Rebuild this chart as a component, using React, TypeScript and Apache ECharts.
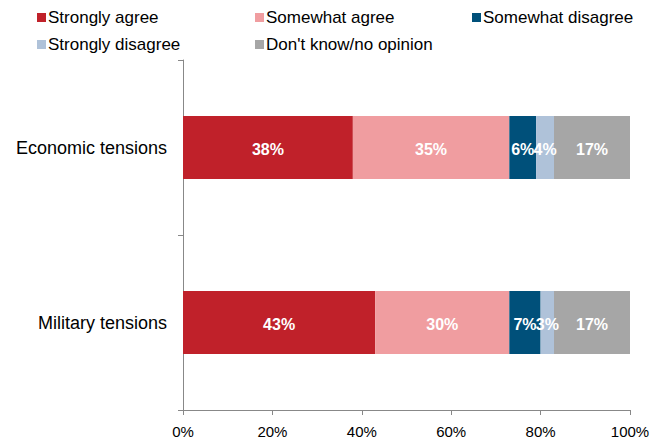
import React, { useEffect, useRef } from "react";
import * as echarts from "echarts";

const categories = ["Economic tensions", "Military tensions"];
const seriesNames = ["Strongly agree", "Somewhat agree", "Somewhat disagree", "Strongly disagree", "Don't know/no opinion"];
const stronglyAgree = [38, 43];
const somewhatAgree = [35, 30];
const somewhatDisagree = [6, 7];
const stronglyDisagree = [4, 3];
const dontKnow = [17, 17];
const xTicks = [0, 20, 40, 60, 80, 100];

const colors = ["#C0212A", "#F09DA0", "#00507A", "#AFC2D9", "#A6A6A6"];
const FONT = "Liberation Sans, Arial, sans-serif";

export default function App() {
  const ref = useRef<HTMLDivElement>(null);
  useEffect(() => {
    if (!ref.current) return;
    const chart = echarts.init(ref.current, undefined, { renderer: "svg" });
    const values = [stronglyAgree, somewhatAgree, somewhatDisagree, stronglyDisagree, dontKnow];
    const legendPos = [
      { left: 37, top: 9 },
      { left: 255, top: 9 },
      { left: 472, top: 9 },
      { left: 37, top: 36 },
      { left: 255, top: 36 },
    ];
    chart.setOption({
      animation: false,
      textStyle: { fontFamily: FONT },
      legend: seriesNames.map((n, i) => ({
        data: [n],
        left: legendPos[i].left,
        top: legendPos[i].top,
        icon: "rect",
        itemWidth: 9,
        itemHeight: 9,
        itemGap: 0,
        selectedMode: false,
        padding: 0,
        textStyle: { fontFamily: FONT, fontSize: 17, color: "#000", padding: [0, 0, 0, -3] },
      })),
      grid: { left: 183, right: 24, top: 60, bottom: 31, containLabel: false },
      xAxis: {
        type: "value",
        min: 0,
        max: 100,
        interval: 20,
        axisLine: { show: true, lineStyle: { color: "#888", width: 1 } },
        axisTick: { show: true, length: 5, lineStyle: { color: "#888" } },
        splitLine: { show: false },
        axisLabel: {
          formatter: (v: number) => (xTicks.includes(v) ? v + "%" : ""),
          color: "#000",
          fontSize: 15,
          fontFamily: FONT,
          margin: 14,
        },
      },
      yAxis: {
        type: "category",
        data: categories,
        inverse: true,
        axisLine: { show: true, lineStyle: { color: "#888", width: 1 } },
        axisTick: { show: true, length: 5, lineStyle: { color: "#888" } },
        axisLabel: { color: "#000", fontSize: 18, fontFamily: FONT, margin: 16 },
      },
      series: seriesNames.map((n, i) => ({
        name: n,
        type: "bar",
        stack: "total",
        data: values[i],
        barWidth: "36%",
        itemStyle: { color: colors[i] },
        label: {
          show: true,
          position: "inside",
          formatter: "{c}%",
          color: "#fff",
          fontWeight: "bold",
          fontSize: 16,
          fontFamily: FONT,
          offset: [0, 2],
        },
      })),
    });
    return () => chart.dispose();
  }, []);
  return <div ref={ref} style={{ width: 654, height: 441, position: "absolute", left: 0, top: 0 }} />;
}
